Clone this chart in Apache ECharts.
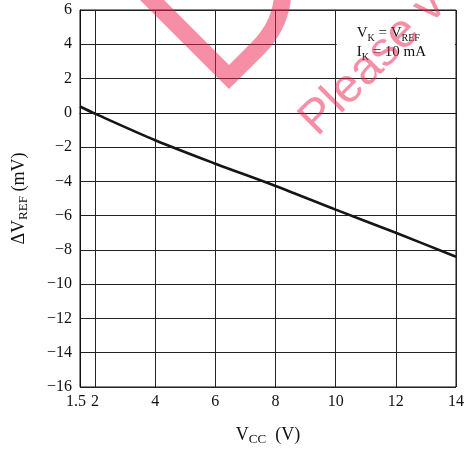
<!DOCTYPE html>
<html><head><meta charset="utf-8">
<script src="https://cdn.jsdelivr.net/npm/echarts@6/dist/echarts.min.js"></script>
<style>html,body{margin:0;padding:0;background:#fff}#c{width:467px;height:451px}</style>
</head><body><div id="c"></div>
<script>
// Data
const vcc = [1.5, 2, 4, 6, 8, 10, 12, 14];
const dVref = [0.37, -0.05, -1.6, -2.97, -4.27, -5.65, -7.0, -8.4];
const xTicks = [1.5, 2, 4, 6, 8, 10, 12, 14];
const xMin = 1.5, xMax = 14;
const yMin = -16, yMax = 6, yStep = 2;
const noteBox = [[10, 6], [14, 2]];

const SERIF = '"Liberation Serif", "Times New Roman", serif';
const chart = echarts.init(document.getElementById('c'), null, {renderer: 'canvas'});
const fmtY = v => v < 0 ? '\u2212' + Math.abs(v) : String(v);
const fmtX = v => v === xMin ? '{a|' + v + '}' : String(v);

chart.setOption({
  animation: false,
  backgroundColor: '#fff',
  grid: {left: 80, top: 10, right: 9, bottom: 63, show: true, borderColor: '#111', borderWidth: 1, backgroundColor: 'transparent'},
  xAxis: {
    type: 'value', min: xMin, max: xMax,
    axisLine: {show: true, lineStyle: {color: '#111', width: 1}},
    axisTick: {show: false, customValues: xTicks},
    axisLabel: {customValues: xTicks, margin: 7, color: '#111', fontFamily: SERIF, fontSize: 16, formatter: fmtX,
      rich: {a: {fontFamily: SERIF, fontSize: 16, color: '#111', padding: [0, 8, 0, 0]}}},
    splitLine: {show: true, lineStyle: {color: '#222', width: 1}},
    name: '{m|V}{s|CC}{m|  (V)}',
    nameLocation: 'middle', nameGap: 37,
    nameTextStyle: {fontFamily: SERIF, color: '#111', rich: {
      m: {fontFamily: SERIF, fontSize: 18, lineHeight: 22, color: '#111'},
      s: {fontFamily: SERIF, fontSize: 13, lineHeight: 12, verticalAlign: 'bottom', color: '#111'}
    }}
  },
  yAxis: {
    type: 'value', min: yMin, max: yMax, interval: yStep,
    axisLine: {show: true, lineStyle: {color: '#111', width: 1}},
    axisTick: {show: false},
    axisLabel: {margin: 8, color: '#111', fontFamily: SERIF, fontSize: 16, formatter: fmtY},
    splitLine: {show: true, lineStyle: {color: '#222', width: 1}},
    name: '{m|\u0394V}{s|REF}{m| (mV)}',
    nameLocation: 'middle', nameRotate: 90, nameGap: 50,
    nameTextStyle: {fontFamily: SERIF, color: '#111', rich: {
      m: {fontFamily: SERIF, fontSize: 18, lineHeight: 22, color: '#111'},
      s: {fontFamily: SERIF, fontSize: 13, lineHeight: 12, verticalAlign: 'bottom', color: '#111'}
    }}
  },
  series: [{
    type: 'line', data: vcc.map((x, i) => [x, dVref[i]]),
    smooth: 0.3, showSymbol: false, z: 4,
    lineStyle: {color: '#151515', width: 2.6}
  }]
});

const p1 = chart.convertToPixel({gridIndex: 0}, noteBox[0]);
const p2 = chart.convertToPixel({gridIndex: 0}, noteBox[1]);
const WM = 'rgba(237,30,76,0.5)';
// watermark stroke outline (decorative)
const wmPts = [[140, -12], [229, 77], [258, 48]];
for (let k = 1; k <= 10; k++) {
  const t = k / 10, u = 1 - t;
  wmPts.push([u * u * 258 + 2 * u * t * 283 + t * t * 283, u * u * 48 + 2 * u * t * 23 + t * t * -12]);
}
chart.setOption({
  graphic: [
    {type: 'rect', z: 10, shape: {x: p1[0] + 1, y: p1[1] + 1, width: p2[0] - p1[0] - 2, height: p2[1] - p1[1] - 2},
     style: {fill: '#fff'}},
    {type: 'text', z: 11, x: p1[0] + 21, y: p1[1] + 14,
     style: {
       text: '{m|V}{s|K}{m| = V}{s|REF}\n{m|I}{s|K}{m| = 10 mA}',
       fill: '#111', font: '15px ' + SERIF, align: 'left', verticalAlign: 'top',
       rich: {
         m: {fontFamily: SERIF, fontSize: 15, lineHeight: 19, fill: '#111'},
         s: {fontFamily: SERIF, fontSize: 10, lineHeight: 10, verticalAlign: 'bottom', fill: '#111'}
       }
     }},
    {type: 'polyline', z: 50, silent: true,
     shape: {points: wmPts},
     style: {fill: null, stroke: WM, lineWidth: 17, lineJoin: 'miter'}},
    {type: 'text', z: 50, silent: true, x: 308, y: 128, rotation: Math.PI / 4,
     style: {text: 'Please v', fill: WM, font: '48px "Liberation Sans", Arial, sans-serif', align: 'left', verticalAlign: 'middle'}}
  ]
});
</script>
</body></html>
